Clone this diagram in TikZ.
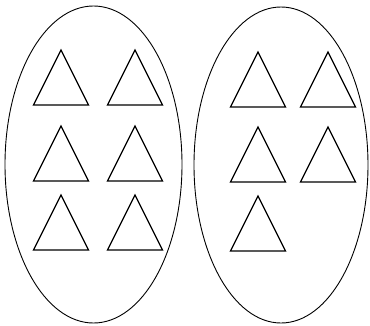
\documentclass[tikz,border=0pt]{standalone}
\tikzset{
  bag/.style={draw=black,line width=0.9pt},
  tri/.style={draw=black,line width=1.3pt,line join=miter}
}
\begin{document}
\begin{tikzpicture}[x=1pt,y=-1pt]
  \useasboundingbox (0,0) rectangle (370,325);
  \draw[bag] (93.5,164.5) ellipse (88.5 and 158.5);
  \draw[bag] (281,165) ellipse (87 and 158);
  % left set: 6
  \foreach \x/\y in {61/105,135/105,61/181,135/181,61/250,135/250}
      \draw[tri] (\x-27.5,\y) -- (\x,\y-55) -- (\x+27.5,\y) -- cycle;
  % right set: 5
  \foreach \x/\y in {258/107,328/107,258/182,328/182,258/251}
      \draw[tri] (\x-27.5,\y) -- (\x,\y-55) -- (\x+27.5,\y) -- cycle;
\end{tikzpicture}
\end{document}
